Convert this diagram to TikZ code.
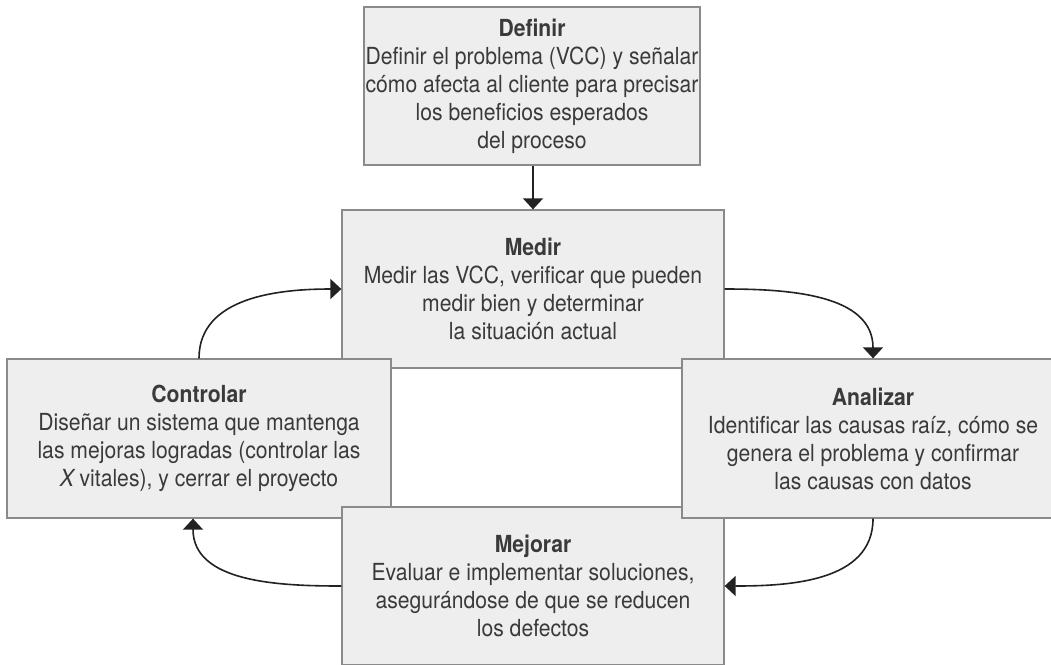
\documentclass[tikz,border=0pt]{standalone}
\usepackage{fontspec}
\setmainfont{TeX Gyre Heros}[FakeStretch=0.9]
\usetikzlibrary{arrows.meta}
\definecolor{boxfill}{HTML}{EEEEEE}
\definecolor{boxline}{HTML}{8A8A8A}
\definecolor{txt}{HTML}{3A3A3A}
\definecolor{arr}{HTML}{222222}
\tikzset{
  stagebox/.style={rectangle, draw=boxline, fill=boxfill, line width=1.3pt,
    inner sep=0pt},
  stagetext/.style={align=center, text=txt, inner sep=0pt,
    font=\fontsize{23.5}{28}\selectfont},
  flow/.style={draw=arr, line width=1.6pt, -{Triangle[length=11pt,width=20pt]}}
}
\begin{document}
\begin{tikzpicture}[x=1pt,y=-1pt]
\clip (0,0) rectangle (1051,664);
\fill[white] (0,0) rectangle (1051,664);
\node[stagebox, minimum width=336pt, minimum height=158pt] (def) at (532,86) {};
\node[stagetext] (deft) at (def.center)
  {\textbf{Definir}\\Definir el problema (VCC) y señalar\\cómo afecta al cliente para precisar\\los beneficios esperados\\del proceso};
\node[stagebox, minimum width=382pt, minimum height=158pt] (med) at (533,289) {};
\node[stagetext] (medt) at (med.center)
  {\textbf{Medir}\\Medir las VCC, verificar que pueden\\medir bien y determinar\\la situación actual};
\node[stagebox, minimum width=384pt, minimum height=159pt] (con) at (199,438.5) {};
\node[stagetext] (cont) at (con.center)
  {\textbf{Controlar}\\Diseñar un sistema que mantenga\\las mejoras logradas (controlar las\\\textit{X}\,vitales), y cerrar el proyecto};
\node[stagebox, minimum width=382pt, minimum height=158pt] (mej) at (533,586) {};
\node[stagetext] (mejt) at (mej.center)
  {\textbf{Mejorar}\\Evaluar e implementar soluciones,\\asegurándose de que se reducen\\los defectos};
\node[stagebox, minimum width=382pt, minimum height=159pt] (ana) at (873,438.5) {};
\node[stagetext] (anat) at (ana.center)
  {\textbf{Analizar}\\Identificar las causas raíz, cómo se\\genera el problema y confirmar\\las causas con datos};
\coordinate (conbot) at ([xshift=-6pt]con.south);
\draw[flow] (def.south -| med.north) -- (med.north);
\draw[flow] (med.east) to[out=0,in=90] (ana.north);
\draw[flow] (ana.south) to[out=-90,in=0] (mej.east);
\draw[flow] (mej.west) to[out=180,in=-90] (conbot);
\draw[flow] (con.north) to[out=90,in=180] (med.west);
\end{tikzpicture}
\end{document}
